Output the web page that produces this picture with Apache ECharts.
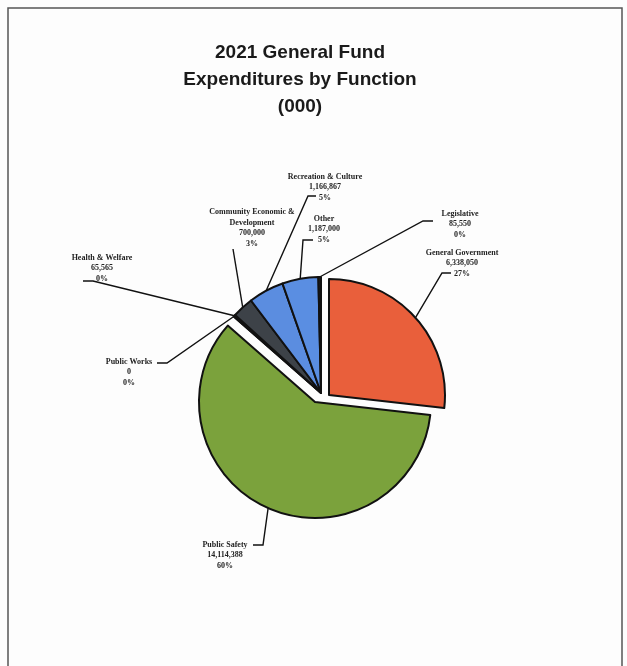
<!DOCTYPE html>
<html>
<head>
<meta charset="utf-8">
<script src="https://cdn.jsdelivr.net/npm/echarts@6/dist/echarts.min.js"></script>
<style>
  html, body { margin: 0; padding: 0; background: #fdfdfd; }
  #main { width: 627px; height: 666px; }
</style>
</head>
<body>
<div id="main"></div>
<script>
// data (values in dollars, title says (000))
var categories = ['General Government', 'Public Safety', 'Public Works', 'Health & Welfare',
    'Community Economic &\nDevelopment', 'Recreation & Culture', 'Other', 'Legislative'];
var amounts = [6338050, 14114388, 0, 65565, 700000, 1166867, 1187000, 85550];
var pulledOut = ['General Government', 'Public Safety'];

// look
var colors = ['#e95f3b', '#7ba23c', '#2e3134', '#2e3134', '#3d4248', '#5b8de0', '#5a8ee2', '#1e1e1e'];
var pieCenter = [321, 393];
// pulled out slices get their own centre (same order as pulledOut)
var pulledCenter = [[329, 395], [315, 402]];
// label centre, then elbow and end of the little horizontal tick of each leader line
var labelPos = [[462, 263], [225, 555], [129, 372], [102, 268], [252, 228], [325, 187], [324, 229], [460, 224]];
var elbow = [[442, 273], [263, 545], [167, 363], [93, 281], [233, 249], [308, 196], [303, 240], [423, 221]];
var tickEnd = [[451, 273], [253, 545], [157, 363], [83, 281], [233, 249], [316, 196], [313, 240], [433, 221]];

var chartDom = document.getElementById('main');
var myChart = echarts.init(chartDom);

// one pie per centre; a slice is only painted in the pie that owns it
function makePie(center, owns) {
    var data = categories.map(function(name, i) {
        var mine = owns(name);
        return {
            name: name,
            value: amounts[i],
            itemStyle: mine ? { color: colors[i], borderColor: '#111', borderWidth: 2 }
                            : { color: 'rgba(0,0,0,0)', borderWidth: 0 },
            label: { show: mine },
            labelLine: { show: mine }
        };
    });
    return {
        type: 'pie',
        center: center,
        radius: 116,
        startAngle: 90,
        clockwise: true,
        silent: true,
        avoidLabelOverlap: false,
        percentPrecision: 0,
        emphasis: { disabled: true },
        label: {
            position: 'outside',
            formatter: function(p) {
                return p.name + '\n' + p.value.toLocaleString('en-US') + '\n' + p.percent + '%';
            },
            fontFamily: 'Liberation Serif',
            fontWeight: 'bold',
            fontSize: 8,
            lineHeight: 10.5,
            color: '#222',
            align: 'center'
        },
        labelLine: {
            showAbove: true,
            lineStyle: { color: '#111', width: 1.4 }
        },
        labelLayout: function(params) {
            var i = params.dataIndex;
            var pts = params.labelLinePoints;
            return {
                x: labelPos[i][0],
                y: labelPos[i][1],
                align: 'center',
                verticalAlign: 'middle',
                labelLinePoints: pts ? [pts[0], elbow[i], tickEnd[i]] : undefined
            };
        },
        data: data
    };
}

var series = [makePie(pieCenter, function(name) { return pulledOut.indexOf(name) < 0; })];
pulledOut.forEach(function(n, k) {
    series.push(makePie(pulledCenter[k], function(name) { return name === n; }));
});

var option = {
    animation: false,
    backgroundColor: '#fdfdfd',
    graphic: [{
        type: 'rect',
        shape: { x: 8, y: 8, width: 614, height: 700 },
        style: { fill: 'none', stroke: '#555', lineWidth: 1.5 },
        silent: true
    }],
    title: {
        text: '2021 General Fund\nExpenditures by Function\n(000)',
        left: 295,
        top: 34,
        textAlign: 'center',
        textStyle: {
            fontFamily: 'Liberation Sans',
            fontWeight: 'bold',
            fontSize: 19,
            lineHeight: 27,
            color: '#1a1a1a'
        }
    },
    series: series
};

option && myChart.setOption(option);
</script>
</body>
</html>
